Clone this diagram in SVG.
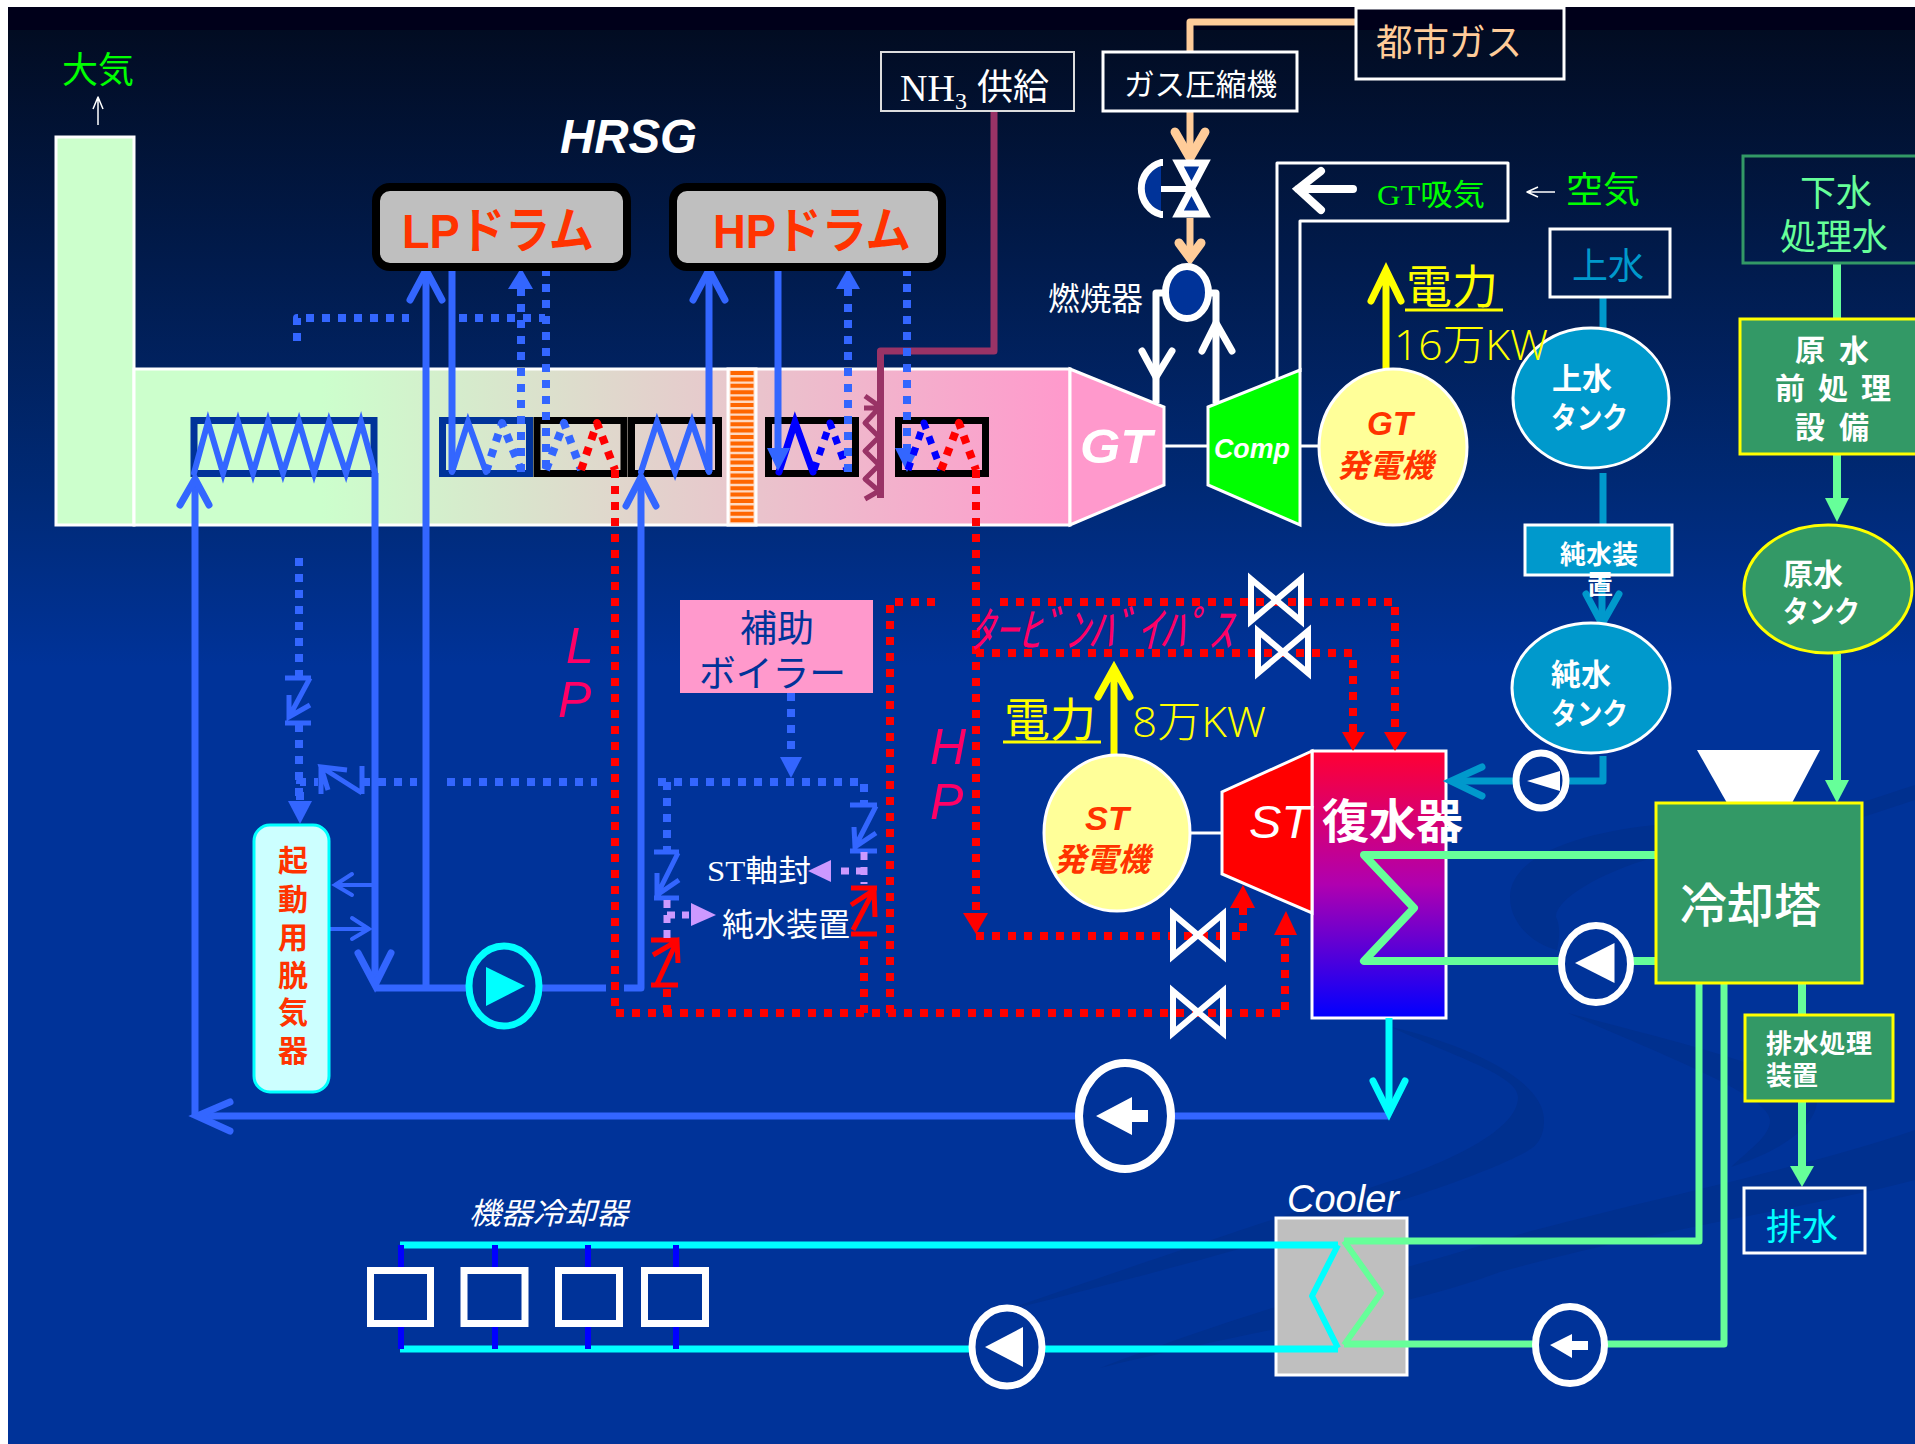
<svg xmlns="http://www.w3.org/2000/svg" width="1915" height="1444" viewBox="0 0 1915 1444">
<style>
text{font-family:"Liberation Sans","Noto Sans CJK JP",sans-serif}
.sf{font-family:"Liberation Serif","Noto Sans CJK JP",serif}
.lt{font-family:"Open Sans","Noto Sans CJK JP",sans-serif;font-weight:300}
.b{font-weight:700}.i{font-style:italic}.m{font-weight:500}
.w{fill:#fff}.or{fill:#ff3300}.g{fill:#00ff00}.mg{fill:#ff0066}.y{fill:#ffff00}.lg{fill:#66ff99}.nb{fill:#003399}.bl{fill:#0099cc}.pc{fill:#ffcc99}.cy{fill:#00ffff}
.box{fill:none;stroke:#fff;stroke-width:3}
.hx{fill:none;stroke-width:7;stroke:#000}
.p{fill:none;stroke-linejoin:round;stroke-linecap:butt}
.bar{fill:none;stroke-linecap:round;stroke-linejoin:miter}
.mb{stroke:#3366ff;stroke-width:7}
.db{stroke:#3366ff;stroke-width:8;stroke-dasharray:8 8}
.dB{stroke:#0000ff;stroke-width:7;stroke-dasharray:8 8}
.dr{stroke:#ff0000;stroke-width:8;stroke-dasharray:8 8}
.dp{stroke:#cc99ff;stroke-width:7;stroke-dasharray:8 7}
.gas{stroke:#ffcc99;stroke-width:7}.wh{stroke:#fff;stroke-width:7}.wt{stroke:#fff;stroke-width:3}
.wtr{stroke:#0099cc;stroke-width:7}.grn{stroke:#66ff99;stroke-width:8}.cyn{stroke:#00ffff;stroke-width:7}
.ye{stroke:#ffff00;stroke-width:7}.nh{stroke:#993366;stroke-width:7}
.fb{fill:#3366ff}.fr{fill:#ff0000}.fg{fill:#66ff99}.fp{fill:#cc99ff}
.chkb{fill:none;stroke:#3366ff;stroke-width:5}.chkr{fill:none;stroke:#ff0000;stroke-width:5}
.pump{fill:#003399;stroke:#fff;stroke-width:7}
.valve{fill:none;stroke:#fff;stroke-width:6;stroke-linejoin:miter}
</style>
<defs>
<linearGradient id="sky" x1="0" y1="0" x2="0" y2="1"><stop offset="0" stop-color="#020c22"/><stop offset="0.33" stop-color="#002a77"/><stop offset="0.45" stop-color="#003399"/><stop offset="1" stop-color="#003399"/></linearGradient>
<linearGradient id="duct" x1="0" y1="0" x2="1" y2="0"><stop offset="0" stop-color="#ccffcc"/><stop offset="0.2" stop-color="#ccffcc"/><stop offset="1" stop-color="#ff99cc"/></linearGradient>
<linearGradient id="cond" x1="0" y1="0" x2="0" y2="1"><stop offset="0" stop-color="#ff0033"/><stop offset="0.5" stop-color="#b000b0"/><stop offset="1" stop-color="#0000ff"/></linearGradient>
<path id="bowH" d="M-25,-21 L25,21 L25,-21 L-25,21 Z"/>
</defs>
<rect width="1915" height="1444" fill="#fff"/>
<rect x="8" y="30" width="1907" height="1414" fill="url(#sky)"/>
<rect x="8" y="7" width="1907" height="23" fill="#00001a"/>
<g fill="#00308f">
<path d="M1656,825C1600,830 1510,850 1510,897C1510,925 1535,945 1557,950C1560,935 1560,925 1556,917C1555,900 1600,872 1656,857Z"/>
<path d="M1391,1027C1450,1040 1544,1075 1544,1120C1544,1145 1530,1150 1516,1157C1450,1190 1250,1250 1000,1312C1150,1260 1300,1210 1400,1178C1450,1160 1518,1130 1518,1097C1518,1075 1450,1055 1391,1027Z"/>
<path d="M1915,1130C1800,1170 1600,1210 1500,1240C1400,1270 1250,1310 1100,1368C1250,1330 1400,1310 1500,1272C1650,1230 1800,1210 1915,1180Z"/>
<path d="M1568,1013C1650,1035 1817,1075 1817,1100C1817,1130 1770,1155 1731,1167C1755,1145 1770,1135 1770,1120C1770,1095 1650,1050 1568,1013Z"/>
<path d="M1863,817L1915,800V785L1863,802Z"/>
</g>

<g id="stack"><path d="M56,137H134V525H56Z" fill="#ccffcc" stroke="#fff" stroke-width="3"/></g>
<g id="hrsg-duct">
<rect x="134" y="369" width="936" height="156" fill="url(#duct)" stroke="#fff" stroke-width="3"/>
<rect x="728" y="369" width="28" height="156" fill="#ffd9c0" stroke="#fff" stroke-width="3"/>
<path d="M742,371V524" fill="none" stroke="#ff6600" stroke-width="23" stroke-dasharray="4 2.4"/>
</g>
<g id="gt"><path d="M1070,369L1164,407V485L1070,525Z" fill="#ff99cc" stroke="#fff" stroke-width="3"/><text x="1080" y="463" font-size="49" class="b i w" textLength="72" lengthAdjust="spacingAndGlyphs">GT</text></g>
<g id="economizer"><rect x="194" y="420.5" width="180" height="53" class="hx" style="stroke:#003399"/></g>
<g id="hx-a"><rect x="442.5" y="420.5" width="87" height="53" class="hx" style="stroke:#003399"/></g>
<g id="hx-b"><rect x="537" y="420.5" width="87" height="53" class="hx"/></g>
<g id="hx-c"><rect x="631.5" y="420.5" width="87" height="53" class="hx"/></g>
<g id="hx-d"><rect x="768.5" y="420.5" width="87" height="53" class="hx"/></g>
<g id="hx-e"><rect x="898.5" y="420.5" width="87" height="53" class="hx"/></g>
<g id="condenser"><rect x="1312" y="751" width="134" height="267" fill="url(#cond)" stroke="#fff" stroke-width="3"/></g>
<g id="st-turbine"><path d="M1312,751L1222,792V874L1312,913Z" fill="#ff0000" stroke="#fff" stroke-width="3"/><text x="1249" y="838" font-size="46" class="i w" textLength="62" lengthAdjust="spacingAndGlyphs">ST</text></g>
<g id="cooler"><rect x="1276" y="1218" width="131" height="157" fill="#bfbfbf" stroke="#fff" stroke-width="3"/></g>

<g id="connectors">
<path class="p" stroke="#fff" stroke-width="1.500" d="M98,125V97M93,109L98,97L103,109"/>
<path class="p" stroke="#fff" stroke-width="1.500" d="M1555,192H1527M1538,187L1527,192L1538,197"/>
<path class="p gas" d="M1356,22H1190V52"/><path class="p gas" d="M1190,111V158"/><path class="p gas" d="M1190,218V258"/>
<path class="bar gas" style="stroke-width:9" d="M1175,132L1190,158L1205,132"/><path class="bar gas" style="stroke-width:9" d="M1179,243L1190,258L1201,243"/>
<path class="p nh" d="M994,111V351H880.500V498"/>
<path class="p nh" style="stroke-width:5" d="M865,396L879,406M864,408H879L865,423L879,437L865,451L879,465L865,479L879,491L865,499"/>
<path class="p wh" d="M1163,293H1156V403M1209,293H1216V403"/>
<path class="bar wh" d="M1142,351L1156,377L1172,351M1202,351L1216,323L1232,351"/>
<path class="p wt" d="M1277,381V163H1508V221H1300V372"/>
<path class="bar" style="stroke:#fff;stroke-width:8" d="M1353,189H1298M1321,171L1298,189L1321,210"/>
<path class="p wt" d="M1164,446H1209M1300,446H1320M1191,833H1222"/>
<path class="bar ye" d="M1386,369V272M1371,301L1386,270L1401,301"/>
<path class="bar ye" d="M1114,756V670M1098,697L1114,668L1130,697"/>
<path class="p" stroke="#ffff00" stroke-width="3" d="M1405,310H1503M1003,742H1101"/>
<path class="p mb" d="M195,1116V480"/><path class="bar mb" d="M180,505L195,479L209,505"/>
<path class="p mb" d="M1389,1116H197"/><path class="bar mb" d="M230,1102L197,1116L230,1131"/>
<path class="bar mb" style="stroke-width:6" d="M194,473L208,422L223,473L238,422L253,473L268,422L283,473L299,422L314,473L329,422L346,473L361,422L375,473"/>
<path class="p mb" d="M375,473V985"/><path class="bar mb" d="M358,953L375,985L391,953"/>
<path class="p mb" d="M375,988H606M624,988H641V480"/><path class="bar mb" d="M626,506L641,477L656,506"/>
<path class="p mb" d="M426,988V272"/><path class="bar mb" d="M410,300L426,270L442,300"/>
<path class="p mb" d="M452,267V472"/>
<path class="bar mb" style="stroke-width:6" d="M452,472L468,422L486,472"/>
<path class="p db" d="M486,472L502,423L521,470"/>
<path class="p db" d="M521,472V282"/><path class="fb" d="M508,289H533L521,268Z"/>
<path class="p db" d="M546,268V471"/>
<path class="p db" d="M297,341V318H409M459,318H545"/>
<path class="p db" d="M546,470L564,423L581,470"/>
<path class="p dr" d="M581,470L597,423L615,470"/>
<path class="bar mb" style="stroke-width:6" d="M641,472L657,422L675,472L692,422L709,472"/>
<path class="p mb" d="M709,472V272"/><path class="bar mb" d="M693,300L709,270L725,300"/>
<path class="bar" style="stroke:#0000ff;stroke-width:7" d="M779,472L795,422L813,472"/>
<path class="p dB" d="M814,470L830,423L847,470"/>
<path class="p mb" d="M778,267V450"/><path class="fb" d="M767,448H790L778,471Z"/>
<path class="p db" d="M848,472V282"/><path class="fb" d="M836,289H860L848,268Z"/>
<path class="p db" d="M907,268V450"/><path class="fb" d="M895,448H919L907,472Z"/>
<path class="p dB" d="M908,470L924,423L941,470"/>
<path class="p dr" d="M941,470L959,423L976,470"/>
<path class="p dr" d="M976,470V915"/><path class="fr" d="M963,913H988L976,934Z"/>
<path class="p dr" d="M976,936H1243V908"/><path class="fr" d="M1230,908H1255L1243,885Z"/>
<path class="p dr" d="M615,470V1013H1285V935"/><path class="fr" d="M1274,935H1297L1286,911Z"/>
<path class="p dr" d="M890,1013V602H938M1000,602H1395V733"/><path class="fr" d="M1384,732H1407L1395,751Z"/>
<path class="p dr" d="M976,653H1353V733"/><path class="fr" d="M1342,732H1365L1353,751Z"/>
<path class="p dr" d="M864,1013V936M667,1013V987"/>
<path class="chkr" d="M651,940H678M651,985H678M657,984L677,941M653,955L677,941L678,963"/>
<path class="chkr" d="M851,888H877M851,934H877M853,930L874,890M851,905L874,890L875,917"/>
<path class="p db" d="M299,558V677M299,724V802"/><path class="fb" d="M288,801H312L300,824Z"/>
<path class="chkb" d="M285,678H311M285,723H311M310,678L289,717M289,695L289,717L310,705"/>
<path class="p db" d="M300,800V782H318M362,782H417M447,782H597M658,782H864V805M667,782V852"/>
<path class="chkb" d="M321,766V794M362,766V794M362,793L321,767M347,770L321,767L328,790"/>
<path class="chkb" d="M654,852H679M654,898H679M678,853L657,895M657,873L657,895L679,880"/>
<path class="chkb" d="M850,805H877M850,851H877M876,806L855,847M854,827L855,847L876,833"/>
<path class="p db" d="M791,693V758"/><path class="fb" d="M780,757H802L791,778Z"/>
<path class="p dp" d="M667,900V940M667,915H689"/><path class="fp" d="M691,903V926L716,915Z"/>
<path class="p dp" d="M864,852V884M864,871H839"/><path class="fp" d="M831,860V882L808,871Z"/>
<path class="bar mb" style="stroke-width:4" d="M372,885H335M352,874L335,885L352,895"/>
<path class="bar mb" style="stroke-width:4" d="M329,929H369M352,918L369,929L352,939"/>
<path class="p wtr" d="M1603,297V328M1603,473V525"/>
<path class="p wtr" d="M1602,575V622"/><path class="bar wtr" d="M1586,594L1602,624L1619,594"/>
<path class="p wtr" d="M1603,756V781H1452"/><path class="bar wtr" d="M1482,767L1451,781L1482,796"/>
<path class="p grn" d="M1837,264V318M1837,454V500"/><path class="fg" d="M1825,498H1849L1837,522Z"/>
<path class="p grn" d="M1837,654V782"/><path class="fg" d="M1825,780H1849L1837,803Z"/>
<path class="p grn" d="M1656,855H1364L1414,908L1364,961H1656"/>
<path class="p grn" d="M1802,983V1015M1802,1101V1170"/><path class="fg" d="M1790,1166H1814L1802,1187Z"/>
<path class="p cyn" d="M1389,1018V1112"/><path class="bar cyn" d="M1373,1081L1389,1113L1405,1081"/>
<path class="p grn" style="stroke-width:7" d="M1699,983V1241H1344M1724,983V1344H1344"/>
<path class="p cyn" d="M400,1245H1338M400,1349H1338"/>
<path class="p cyn" style="stroke-width:6" d="M1338,1245L1312,1296L1338,1348"/>
<path class="p grn" style="stroke-width:6" d="M1344,1241L1381,1293L1344,1345"/>
<path class="p" stroke="#0000ff" stroke-width="6" d="M401,1245V1270M495,1245V1270M588,1245V1270M676,1245V1270M401,1324V1349M495,1324V1349M588,1324V1349M676,1324V1349"/>
</g>

<g id="lp-drum"><rect x="376" y="187" width="251" height="80" rx="14" fill="#bfbfbf" stroke="#000" stroke-width="8"/><text x="402" y="248" font-size="49" class="b or" textLength="192" lengthAdjust="spacingAndGlyphs">LPドラム</text></g>
<g id="hp-drum"><rect x="673" y="187" width="269" height="80" rx="14" fill="#bfbfbf" stroke="#000" stroke-width="8"/><text x="713" y="248" font-size="49" class="b or" textLength="198" lengthAdjust="spacingAndGlyphs">HPドラム</text></g>
<g id="hrsg-label"><text x="560" y="153" font-size="48" class="b i w" textLength="137" lengthAdjust="spacingAndGlyphs">HRSG</text></g>
<g id="atmosphere"><text x="62" y="83" font-size="36" class="g">大気</text></g>
<g id="nh3-supply"><rect x="881" y="52" width="193" height="59" fill="none" stroke="#ddd" stroke-width="2"/><text x="900" y="101" font-size="38" class="sf w">NH<tspan font-size="24" dy="8">3</tspan></text><text x="977" y="100" font-size="36" class="w">供給</text></g>
<g id="gas-compressor"><rect x="1103" y="52" width="194" height="59" class="box"/><text x="1124" y="95" font-size="30" class="w" textLength="153" lengthAdjust="spacingAndGlyphs">ガス圧縮機</text></g>
<g id="city-gas"><rect x="1356" y="8" width="208" height="71" class="box"/><text x="1376" y="56" font-size="37" class="pc" textLength="146" lengthAdjust="spacingAndGlyphs">都市ガス</text></g>
<g id="gas-valve">
<path d="M1161,163A26,26 0 0 0 1161,214Z" fill="#003399"/>
<path d="M1163,162.500H1161A27,27 0 0 0 1161,214.500H1163" fill="none" stroke="#fff" stroke-width="7"/>
<path d="M1161,189H1190" stroke="#fff" stroke-width="6"/>
<path d="M1178,163H1205L1178,214H1205Z" fill="#003399" stroke="#fff" stroke-width="7" stroke-linejoin="miter"/>
</g>
<g id="combustor"><ellipse cx="1187" cy="292.500" rx="21.500" ry="26" fill="#003399" stroke="#fff" stroke-width="7"/><text x="1048" y="310" font-size="32" class="w" textLength="95" lengthAdjust="spacingAndGlyphs">燃焼器</text></g>
<g id="gt-intake"><text x="1377" y="205" font-size="30" class="sf g" textLength="108" lengthAdjust="spacingAndGlyphs">GT吸気</text><text x="1566" y="203" font-size="36" class="g" textLength="74" lengthAdjust="spacingAndGlyphs">空気</text></g>
<g id="compressor"><path d="M1208,407L1300,370V525L1208,485Z" fill="#00ff00" stroke="#fff" stroke-width="3"/><text x="1214" y="458" font-size="27" class="b i w" textLength="76" lengthAdjust="spacingAndGlyphs">Comp</text></g>
<g id="gt-generator"><ellipse cx="1393" cy="447" rx="74" ry="78" fill="#ffff99" stroke="#fff" stroke-width="3"/><text x="1367" y="435" font-size="33" class="b i or" textLength="46" lengthAdjust="spacingAndGlyphs">GT</text><text x="1337" y="477" font-size="32" class="b i or" textLength="96" lengthAdjust="spacingAndGlyphs">発電機</text></g>
<g id="city-water"><rect x="1550" y="229" width="120" height="68" class="box"/><text x="1572" y="279" font-size="36" class="bl">上水</text></g>
<g id="city-water-tank"><ellipse cx="1591" cy="398" rx="78" ry="70" fill="#0099cc" stroke="#fff" stroke-width="3"/><text x="1552" y="389" font-size="30" class="b w">上水</text><text x="1551" y="428" font-size="30" class="b w" textLength="77" lengthAdjust="spacingAndGlyphs">タンク</text></g>
<g id="gt-power"><text x="1406" y="303" font-size="46" class="y">電力</text><text x="1394" y="360" font-size="43" class="lt y" textLength="154" lengthAdjust="spacingAndGlyphs">16万KW</text></g>
<g id="demineralizer"><rect x="1525" y="525" width="147" height="50" fill="#0099cc" stroke="#fff" stroke-width="3"/><text x="1560" y="564" font-size="26" class="b w">純水装</text><text x="1587" y="594" font-size="26" class="b w">置</text></g>
<g id="pure-water-tank"><ellipse cx="1591" cy="688" rx="79" ry="65" fill="#0099cc" stroke="#fff" stroke-width="3"/><text x="1551" y="685" font-size="30" class="b w">純水</text><text x="1551" y="724" font-size="30" class="b w" textLength="77" lengthAdjust="spacingAndGlyphs">タンク</text></g>
<g id="pump-pure"><ellipse cx="1541" cy="780.500" rx="25" ry="27.500" class="pump"/><path class="w" d="M1527,781L1560,771V791Z"/></g>
<g id="condenser-label"><text x="1322" y="838" font-size="47" class="b w">復水器</text></g>
<g id="pump-cw"><ellipse cx="1596" cy="964" rx="34.500" ry="38.500" class="pump"/><path class="w" d="M1575,963L1614.500,943V983Z"/></g>
<g id="fan"><path class="w" d="M1697,750H1820L1792,803H1727Z"/></g>
<g id="cooling-tower"><rect x="1656" y="803" width="206" height="180" fill="#339966" stroke="#ffff00" stroke-width="3"/><text x="1680" y="922" font-size="47" class="m w">冷却塔</text></g>
<g id="sewage"><rect x="1743" y="156" width="180" height="107" fill="none" stroke="#339966" stroke-width="3"/><text x="1800" y="206" font-size="36" class="lg">下水</text><text x="1780" y="250" font-size="36" class="lg">処理水</text></g>
<g id="pretreatment"><rect x="1740" y="319" width="185" height="135" fill="#339966" stroke="#ffff00" stroke-width="3"/><text x="1795" y="361" font-size="30" class="b w" xml:space="preserve" textLength="74">原 水</text><text x="1775" y="399" font-size="30" class="b w" xml:space="preserve" textLength="116">前 処 理</text><text x="1795" y="438" font-size="30" class="b w" xml:space="preserve" textLength="74">設 備</text></g>
<g id="raw-water-tank"><ellipse cx="1828" cy="589" rx="84" ry="64" fill="#339966" stroke="#ffff00" stroke-width="3"/><text x="1783" y="585" font-size="30" class="b w">原水</text><text x="1783" y="622" font-size="30" class="b w" textLength="77" lengthAdjust="spacingAndGlyphs">タンク</text></g>
<g id="waste-treatment"><rect x="1745" y="1015" width="148" height="86" fill="#339966" stroke="#ffff00" stroke-width="3"/><text x="1766" y="1053" font-size="26" class="b w" textLength="106">排水処理</text><text x="1766" y="1085" font-size="26" class="b w">装置</text></g>
<g id="drain"><rect x="1744" y="1188" width="121" height="65" class="box"/><text x="1766" y="1240" font-size="36" class="cy">排水</text></g>
<g id="st-generator"><ellipse cx="1117" cy="833" rx="73" ry="78" fill="#ffff99" stroke="#fff" stroke-width="3"/><text x="1085" y="830" font-size="33" class="b i or" textLength="44" lengthAdjust="spacingAndGlyphs">ST</text><text x="1054" y="871" font-size="32" class="b i or" textLength="96" lengthAdjust="spacingAndGlyphs">発電機</text></g>
<g id="st-power"><text x="1004" y="736" font-size="46" class="y">電力</text><text x="1132" y="737" font-size="43" class="lt y" textLength="134" lengthAdjust="spacingAndGlyphs">8万KW</text></g>
<g id="bypass-valves">
<use href="#bowH" x="1276" y="600" class="valve"/><use href="#bowH" x="1283" y="652" class="valve"/><use href="#bowH" x="1198" y="935" class="valve"/><use href="#bowH" x="1198" y="1012" class="valve"/>
</g>
<g id="bypass-label"><text x="970" y="647" font-size="48" class="i mg" textLength="262" lengthAdjust="spacingAndGlyphs">ﾀｰﾋﾞﾝﾊﾞｲﾊﾟｽ</text></g>
<g id="lp-hp-labels"><text x="566" y="663" font-size="50" class="i mg">L</text><text x="558" y="717" font-size="50" class="i mg">P</text><text x="930" y="764" font-size="50" class="i mg">H</text><text x="930" y="819" font-size="50" class="i mg">P</text></g>
<g id="aux-boiler"><rect x="680" y="600" width="193" height="93" fill="#ff99cc"/><text x="740" y="642" font-size="37" class="nb">補助</text><text x="699" y="687" font-size="37" class="nb" textLength="147" lengthAdjust="spacingAndGlyphs">ボイラー</text></g>
<g id="st-seal"><text x="707" y="881" font-size="30" class="sf w" textLength="104" lengthAdjust="spacingAndGlyphs">ST軸封</text></g>
<g id="demin-label"><text x="722" y="936" font-size="32" class="w">純水装置</text></g>
<g id="deaerator"><rect x="254" y="825" width="75" height="267" rx="16" fill="#ccffff" stroke="#00ffff" stroke-width="3"/>
<text x="293" y="871" font-size="30" class="b or" text-anchor="middle">起</text><text x="293" y="910" font-size="30" class="b or" text-anchor="middle">動</text><text x="293" y="948" font-size="30" class="b or" text-anchor="middle">用</text><text x="293" y="986" font-size="30" class="b or" text-anchor="middle">脱</text><text x="293" y="1023" font-size="30" class="b or" text-anchor="middle">気</text><text x="293" y="1061" font-size="30" class="b or" text-anchor="middle">器</text></g>
<g id="pump-feed"><ellipse cx="504" cy="986" rx="35" ry="40" fill="#003399" stroke="#00ffff" stroke-width="7"/><path class="cy" d="M486,967V1006L525,986Z"/></g>
<g id="pump-condensate"><ellipse cx="1125" cy="1116" rx="46" ry="53" class="pump" style="stroke-width:8"/><path class="w" d="M1096,1116L1132,1097V1110H1148V1122H1132V1135Z"/></g>
<g id="pump-loop"><ellipse cx="1007" cy="1347" rx="35" ry="39" class="pump"/><path class="w" d="M985,1347L1023,1327V1367Z"/></g>
<g id="pump-cooler"><ellipse cx="1570" cy="1345" rx="34.500" ry="38.500" class="pump"/><path class="w" d="M1550,1345L1572,1334V1341H1588V1350H1572V1358Z"/></g>
<g id="cooler-label"><text x="1287" y="1212" font-size="38" class="i w" textLength="112" lengthAdjust="spacingAndGlyphs">Cooler</text></g>
<g id="aux-cooler-label"><text x="469" y="1224" font-size="30" class="i w" textLength="159" lengthAdjust="spacingAndGlyphs">機器冷却器</text></g>
<g id="aux-cooler-1"><rect x="370.500" y="1270.500" width="60" height="53" class="box" style="stroke-width:7"/></g>
<g id="aux-cooler-2"><rect x="464" y="1270.500" width="61" height="53" class="box" style="stroke-width:7"/></g>
<g id="aux-cooler-3"><rect x="558.500" y="1270.500" width="61" height="53" class="box" style="stroke-width:7"/></g>
<g id="aux-cooler-4"><rect x="644.500" y="1270.500" width="61" height="53" class="box" style="stroke-width:7"/></g>
</svg>
